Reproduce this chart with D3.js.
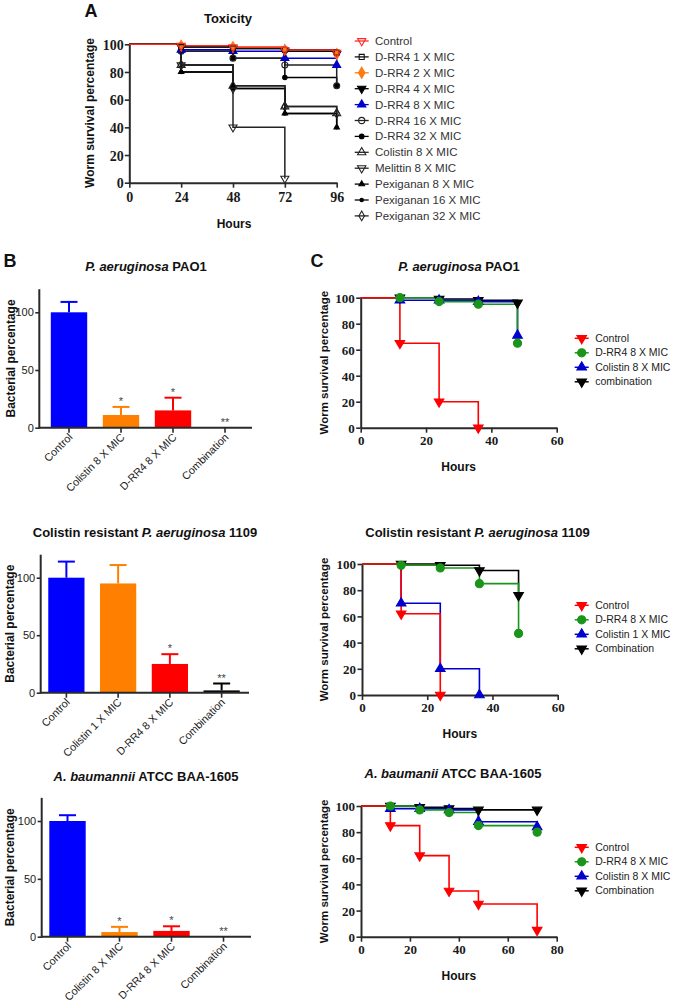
<!DOCTYPE html>
<html><head><meta charset="utf-8">
<script src="https://cdn.jsdelivr.net/npm/d3@7"></script>
<style>body{margin:0;background:#fff}svg{display:block}</style>
</head><body>
<svg id="c" width="675" height="1004"></svg>
<script>
// ---------------- DATA ----------------
// Panel A: toxicity
const toxHours = [0, 24, 48, 72, 96];
const toxNames = ["Control", "D-RR4 1 X MIC", "D-RR4 2 X MIC", "D-RR4 4 X MIC", "D-RR4 8 X MIC",
  "D-RR4 16 X MIC", "D-RR4 32 X MIC", "Colistin 8 X MIC", "Melittin 8 X MIC",
  "Pexiganan 8 X MIC", "Pexiganan 16 X MIC", "Pexiganan 32 X MIC"];
const toxControl   = [100, 99, 98, 96, 94];
const toxDRR4x1    = [100, 98, 97, 96, 94];
const toxDRR4x2    = [100, 99, 98, 96, 93];
const toxDRR4x4    = [100, 98, 97, 95, 93];
const toxDRR4x8    = [100, 96, 95, 90, 85];
const toxDRR4x16   = [100, 95, 90, 85, 70];
const toxDRR4x32   = [100, 95, 90, 76, 70];
const toxColistin8 = [100, 85, 70, 55, 50];
const toxMelittin8 = [100, 85, 40, 3];
const toxPex8      = [100, 80, 70, 50, 40];
const toxPex16     = [100, 80, 68, 50, 40];
const toxPex32     = [100, 85, 68, 55, 50];
const toxYTicks = [0, 20, 40, 60, 80, 100];

// Panel B: bacterial percentage
const b1Cats = ["Control", "Colistin 8 X MIC", "D-RR4 8 X MIC", "Combination"];
const b1Vals = [100, 11, 15, 0];
const b1Errs = [9, 7, 11, 0];
const b1Sig  = ["", "*", "*", "**"];
const b2Cats = ["Control", "Colistin 1 X MIC", "D-RR4 8 X MIC", "Combination"];
const b2Vals = [100, 95, 25, 2];
const b2Errs = [14, 16, 8.5, 6];
const b2Sig  = ["", "", "*", "**"];
const b3Cats = ["Control", "Colistin 8 X MIC", "D-RR4 8 X MIC", "Combination"];
const b3Vals = [100, 4, 5, 0];
const b3Errs = [5, 4.5, 4, 0];
const b3Sig  = ["", "*", "*", "**"];
const barYTicks = [0, 50, 100];

// Panel C: worm survival
const c1Names = ["Control", "D-RR4 8 X MIC", "Colistin 8 X MIC", "combination"];
const c1Hours = [0, 12, 24, 36, 48];
const c1Control = [100, 65, 20, 0];
const c1DRR4    = [100, 100, 97, 95, 65];
const c1Colis   = [100, 98, 98, 97, 71];
const c1Combo   = [100, 100, 99, 98, 96];
const c2Names = ["Control", "D-RR4 8 X MIC", "Colistin 1 X MIC", "Combination"];
const c2Hours = [0, 12, 24, 36, 48];
const c2Control = [100, 62, 0];
const c2DRR4    = [100, 99, 97, 85, 47];
const c2Colis   = [100, 70, 20, 0];
const c2Combo   = [100, 100, 99, 95, 76];
const c3Names = ["Control", "D-RR4 8 X MIC", "Colistin 8 X MIC", "Combination"];
const c3Hours = [0, 12, 24, 36, 48, 72];
const c3Control = [100, 85, 62, 35, 25, 5];
const c3DRR4    = [100, 100, 97, 95, 85, 80];
const c3Colis   = [100, 98, 98, 97, 88, 84];
const c3Combo   = [100, 100, 99, 98, 97, 97];
const c12XTicks = [0, 20, 40, 60];
const c3XTicks = [0, 20, 40, 60, 80];
const survYTicks = [0, 20, 40, 60, 80, 100];

// ---------------- STYLES ----------------
const SANS = "'Liberation Sans', Arial, Helvetica, sans-serif";
const SERIF = "'Liberation Serif', 'Times New Roman', 'DejaVu Serif', serif";
const AX = "#2a2a2a";
const toxColors = ["#ff2a2a", "#111", "#ff7a10", "#000", "#0000cc", "#222", "#000", "#222", "#222", "#000", "#000", "#222"];
const toxShapes = ["triDownOpen", "squareOpen", "diamond", "triDown", "tri", "circleOpen", "circleSmall", "triOpen", "triDownOpen", "triSmall", "dotSmall", "diamondOpen"];
const barColors = ["#0000ff", "#ff8000", "#ff0000", "#000000"];
const survColors = ["#ff0000", "#1a951a", "#0000cc", "#000000"];
const survShapes = ["triDown", "circle", "tri", "triDown"];

const svg = d3.select("#c");

function drawMarker(g, shape, x, y, color, k) {
  let type = d3.symbolCircle, size = 50, filled = true, rot = 0;
  switch (shape) {
    case "tri": type = d3.symbolTriangle; size = 40; break;
    case "triOpen": type = d3.symbolTriangle; size = 40; filled = false; break;
    case "triDown": type = d3.symbolTriangle; size = 40; rot = 180; break;
    case "triDownOpen": type = d3.symbolTriangle; size = 40; filled = false; rot = 180; break;
    case "circle": type = d3.symbolCircle; size = 52; break;
    case "circleOpen": type = d3.symbolCircle; size = 40; filled = false; break;
    case "circleSmall": type = d3.symbolCircle; size = 22; break;
    case "squareOpen": type = d3.symbolSquare; size = 34; filled = false; break;
    case "diamond": type = d3.symbolDiamond; size = 48; break;
    case "diamondOpen": type = d3.symbolDiamond; size = 36; filled = false; break;
    case "triSmall": type = d3.symbolTriangle; size = 18; break;
    case "dotSmall": type = d3.symbolCircle; size = 12; break;
  }
  g.append("path")
    .attr("d", d3.symbol(type, size * k)())
    .attr("transform", `translate(${x},${y}) rotate(${rot})`)
    .attr("fill", filled ? color : "none")
    .attr("stroke", color).attr("stroke-width", 1.1);
}

function styleAxis(sel, font, size, weight) {
  sel.attr("font-family", null).attr("font-size", null);
  sel.select(".domain").attr("stroke", AX).attr("stroke-width", 2);
  sel.selectAll(".tick line").attr("stroke", AX).attr("stroke-width", 1.6);
  sel.selectAll(".tick text").style("font-family", font).style("font-size", size + "px")
    .style("font-weight", weight).attr("fill", "#1a1a1a");
}

function label(x, y, txt, size, weight, anchor, rot) {
  const t = svg.append("text").attr("font-family", SANS).attr("font-size", size)
    .attr("font-weight", weight).attr("fill", "#111").attr("text-anchor", anchor || "middle");
  if (rot) t.attr("transform", `translate(${x},${y}) rotate(${rot})`).attr("dy", "0.35em");
  else t.attr("x", x).attr("y", y);
  t.text(txt);
  return t;
}

function titleItalic(x, y, ital, rest, pre, size) {
  const t = svg.append("text").attr("x", x).attr("y", y).attr("text-anchor", "middle")
    .attr("font-family", SANS).attr("font-size", size || 13).attr("font-weight", "bold").attr("fill", "#111");
  if (pre) t.append("tspan").text(pre);
  t.append("tspan").attr("font-style", "italic").text(ital);
  t.append("tspan").text(rest);
}

// ---------- survival panel ----------
function survival(o) {
  const x = d3.scaleLinear().domain(o.xDomain).range([o.left, o.right]);
  const y = d3.scaleLinear().domain([0, 100]).range([o.bottom, o.top]);
  const g = svg.append("g");
  const xa = g.append("g").attr("transform", `translate(0,${o.bottom})`)
    .call(d3.axisBottom(x).tickValues(o.xTicks).tickSize(5).tickSizeOuter(0).tickPadding(o.xPad));
  styleAxis(xa, SERIF, o.tickFont, "bold");
  const ya = g.append("g").attr("transform", `translate(${o.left},0)`)
    .call(d3.axisLeft(y).tickValues(o.yTicks).tickSize(4.5).tickSizeOuter(0).tickPadding(1.5));
  styleAxis(ya, SERIF, o.tickFont, "bold");
  ya.selectAll(".tick text").attr("dy", "0.36em");

  const line = d3.line().curve(d3.curveStepAfter).x(d => x(d[0])).y(d => y(d[1]));
  const series = o.values.map((vals, i) => ({
    pts: vals.map((v, j) => [o.hours[j], v]),
    color: o.colors[i], shape: o.shapes[i]
  }));
  const lineOrder = o.lineOrder || series.map((d, i) => i);
  lineOrder.forEach(i => {
    const s = series[i];
    g.append("path").attr("d", line(s.pts)).attr("fill", "none")
      .attr("stroke", s.color).attr("stroke-width", 1.6);
  });
  const markOrder = o.markOrder || series.map((d, i) => i);
  markOrder.forEach(i => {
    const s = series[i];
    s.pts.slice(1).forEach(p => drawMarker(g, s.shape, x(p[0]), y(p[1]), s.color, o.mk));
  });
  label((o.left + o.right) / 2, o.hoursY, "Hours", 12, "bold");
  label(o.ylabX, (o.top + o.bottom) / 2, "Worm survival percentage", o.ylabSize, "bold", "middle", -90);
  o.names.forEach((n, i) => {
    const ly = o.legY + i * o.legStep;
    g.append("line").attr("x1", o.legX - 7).attr("x2", o.legX + 7).attr("y1", ly).attr("y2", ly)
      .attr("stroke", o.colors[i]).attr("stroke-width", 1.5);
    drawMarker(g, o.shapes[i], o.legX, ly, o.colors[i], o.legMk);
    g.append("text").attr("x", o.legX + o.legTextDx).attr("y", ly).attr("dy", "0.35em")
      .attr("font-family", SANS).attr("font-size", o.legFont).attr("fill", "#222").text(n);
  });
}

// ---------- bar panel ----------
function bars(o) {
  const y = d3.scaleLinear().domain([0, 100]).range([o.bottom, o.y100]);
  const x = d3.scaleBand().domain(o.cats).range([o.bandStart, o.bandStart + o.bandLen])
    .paddingInner(0.3).paddingOuter(0.15);
  const g = svg.append("g");
  const ya = g.append("g").attr("transform", `translate(${o.left},0)`)
    .call(d3.axisLeft(y).tickValues(barYTicks).tickSize(4).tickSizeOuter(0).tickPadding(1.5));
  ya.select(".domain").remove();
  styleAxis(ya, SANS, 11, "normal");
  g.append("line").attr("x1", o.left).attr("x2", o.left).attr("y1", o.bottom + 1).attr("y2", y(120))
    .attr("stroke", AX).attr("stroke-width", 2);
  o.cats.forEach((c, i) => {
    const v = o.vals[i], e = o.errs[i], col = barColors[i];
    const bx = x(c), bw = x.bandwidth(), cx = bx + bw / 2;
    if (v > 0) g.append("rect").attr("x", bx).attr("y", y(v)).attr("width", bw)
      .attr("height", y(0) - y(v)).attr("fill", col);
    if (e > 0) {
      g.append("line").attr("x1", cx).attr("x2", cx).attr("y1", y(v)).attr("y2", y(v + e))
        .attr("stroke", col).attr("stroke-width", 2);
      g.append("line").attr("x1", cx - 8.5).attr("x2", cx + 8.5).attr("y1", y(v + e)).attr("y2", y(v + e))
        .attr("stroke", col).attr("stroke-width", 2);
    }
    if (o.sig[i]) g.append("text").attr("x", cx).attr("y", y(v + e) - 2).attr("text-anchor", "middle")
      .attr("font-family", SANS).attr("font-size", 11).attr("fill", "#444").text(o.sig[i]);
  });
  const xa = g.append("g").attr("transform", `translate(0,${o.bottom})`)
    .call(d3.axisBottom(x).tickSize(5).tickSizeOuter(0));
  xa.select(".domain").attr("d", `M${o.left},0H${o.right}`);
  styleAxis(xa, SANS, 10.8, "normal");
  xa.selectAll(".tick text").attr("text-anchor", "end").attr("dy", "0.35em").attr("y", 0)
    .attr("transform", "translate(1.5,7.5) rotate(-45)");
  label(o.ylabX, (o.bottom + y(120)) / 2, "Bacterial percentage", 12, "bold", "middle", -90);
}

// ---------------- PANEL A ----------------
(function () {
  const left = 129.3, right = 336.7, top = 44.3, bottom = 182.7;
  const x = d3.scaleLinear().domain([0, 96]).range([left, right]);
  const y = d3.scaleLinear().domain([0, 100]).range([bottom, top]);
  const g = svg.append("g");
  const xa = g.append("g").attr("transform", `translate(0,${bottom})`)
    .call(d3.axisBottom(x).tickValues(toxHours).tickSize(5).tickSizeOuter(0).tickPadding(4));
  styleAxis(xa, SERIF, 14, "bold");
  const ya = g.append("g").attr("transform", `translate(${left},0)`)
    .call(d3.axisLeft(y).tickValues(toxYTicks).tickSize(4.5).tickSizeOuter(0).tickPadding(1));
  styleAxis(ya, SERIF, 14, "bold");
  ya.selectAll(".tick text").attr("dy", "0.36em");
  const toxValues = [toxControl, toxDRR4x1, toxDRR4x2, toxDRR4x4, toxDRR4x8, toxDRR4x16, toxDRR4x32,
    toxColistin8, toxMelittin8, toxPex8, toxPex16, toxPex32];
  const line = d3.line().curve(d3.curveStepAfter).x(d => x(d[0])).y(d => y(d[1]));
  const order = d3.range(toxValues.length).reverse();
  order.forEach(i => {
    const pts = toxValues[i].map((v, j) => [toxHours[j], v]);
    g.append("path").attr("d", line(pts)).attr("fill", "none").attr("stroke", toxColors[i])
      .attr("stroke-width", i === 0 ? 1.2 : 1.5);
  });
  order.forEach(i => {
    toxValues[i].forEach((v, j) => {
      if (j > 0) drawMarker(g, toxShapes[i], x(toxHours[j]), y(v), toxColors[i], 0.7);
    });
  });
  label(228, 23, "Toxicity", 13, "bold");
  label(234, 228, "Hours", 12, "bold");
  label(90, 113, "Worm survival percentage", 12, "bold", "middle", -90);
  toxNames.forEach((n, i) => {
    const ly = 41 + i * 15.9, lx = 361.7;
    g.append("line").attr("x1", lx - 7).attr("x2", lx + 7).attr("y1", ly).attr("y2", ly)
      .attr("stroke", toxColors[i]).attr("stroke-width", 1.3);
    drawMarker(g, toxShapes[i], lx, ly, toxColors[i], 0.75);
    g.append("text").attr("x", 375).attr("y", ly).attr("dy", "0.35em").attr("font-family", SANS)
      .attr("font-size", 11.5).attr("fill", "#333").text(n);
  });
})();

// ---------------- PANEL B ----------------
bars({ left: 39.3, right: 252, bandStart: 43, bandLen: 208, bottom: 427.7, y100: 312.3,
  cats: b1Cats, vals: b1Vals, errs: b1Errs, sig: b1Sig, ylabX: 11 });
titleItalic(146, 271, "P. aeruginosa", " PAO1");
bars({ left: 40.7, right: 249, bandStart: 40.5, bandLen: 207, bottom: 692.7, y100: 577.7,
  cats: b2Cats, vals: b2Vals, errs: b2Errs, sig: b2Sig, ylabX: 9.5 });
titleItalic(145, 537, "P. aeruginosa", " 1109", "Colistin resistant ");
bars({ left: 41.7, right: 251, bandStart: 41.5, bandLen: 208, bottom: 936.7, y100: 821,
  cats: b3Cats, vals: b3Vals, errs: b3Errs, sig: b3Sig, ylabX: 9.5 });
titleItalic(146, 781, "A. baumannii", " ATCC BAA-1605");

// ---------------- PANEL C ----------------
const survCommon = { colors: survColors, shapes: survShapes, yTicks: survYTicks, tickFont: 13, xPad: 3,
  mk: 1, legMk: 1, legX: 581.7, legTextDx: 13.5, legFont: 10.5, legStep: 14.5, ylabX: 324, ylabSize: 11.5,
  lineOrder: [3, 2, 1, 0], markOrder: [0, 3, 2, 1] };
survival(Object.assign({}, survCommon, { left: 360.7, right: 556.7, top: 297.7, bottom: 427.7,
  xDomain: [0, 60], xTicks: c12XTicks, hours: c1Hours, values: [c1Control, c1DRR4, c1Colis, c1Combo],
  names: c1Names, hoursY: 471, legY: 338.3 }));
titleItalic(459, 271, "P. aeruginosa", " PAO1");
survival(Object.assign({}, survCommon, { left: 362, right: 557.7, top: 564, bottom: 695,
  xDomain: [0, 60], xTicks: c12XTicks, hours: c2Hours, values: [c2Control, c2DRR4, c2Colis, c2Combo],
  names: c2Names, hoursY: 738, legY: 605.3 }));
titleItalic(477.5, 537, "P. aeruginosa", " 1109", "Colistin resistant ");
survival(Object.assign({}, survCommon, { left: 361, right: 556.7, top: 806, bottom: 936.7,
  xDomain: [0, 80], xTicks: c3XTicks, hours: c3Hours, values: [c3Control, c3DRR4, c3Colis, c3Combo],
  names: c3Names, hoursY: 980, legY: 847.3 }));
titleItalic(453, 778, "A. baumanii", " ATCC BAA-1605");

// panel letters
label(91, 17, "A", 18, "bold");
label(10, 267, "B", 18, "bold");
label(317, 267, "C", 18, "bold");
</script>
</body></html>
